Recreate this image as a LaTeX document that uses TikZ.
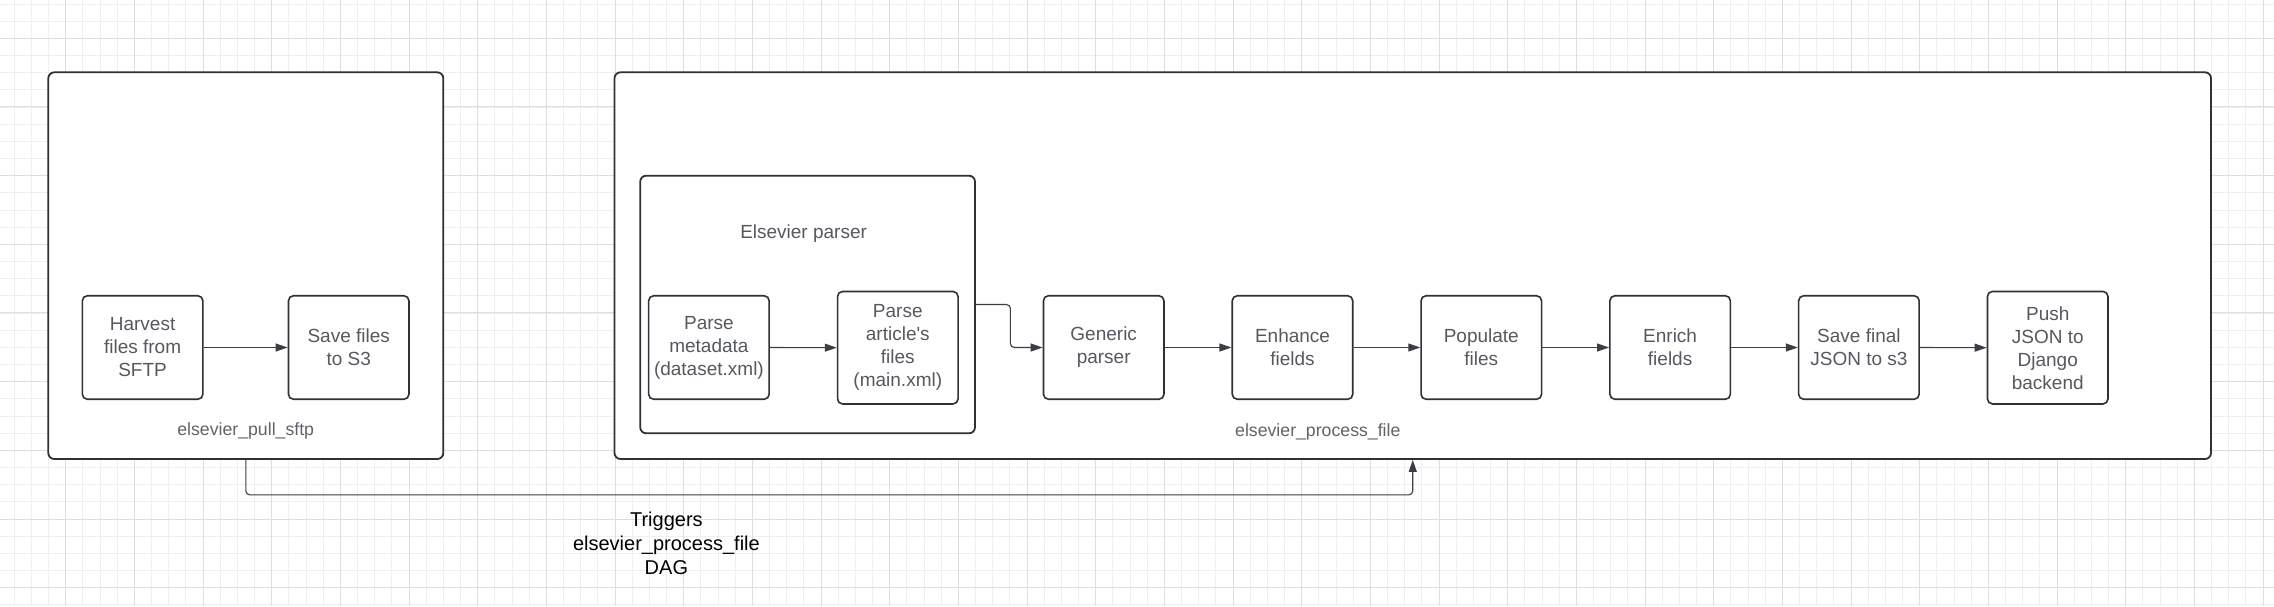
\documentclass[tikz,border=0pt]{standalone}
\usepackage{fontspec}
\setmainfont{Liberation Sans}[Ligatures=TeXOff]
\usetikzlibrary{arrows.meta}
\definecolor{gridminor}{HTML}{EFEFEF}
\definecolor{gridmajor}{HTML}{DEDEDE}
\definecolor{edge}{HTML}{2E3136}
\definecolor{txt}{HTML}{55595F}
\definecolor{lbl}{HTML}{606369}
\definecolor{conn}{HTML}{3A3E45}
\begin{document}
\begin{tikzpicture}[x=1pt,y=-1pt,
  stepbox/.style={draw=edge, line width=1.6pt, rounded corners=5pt, fill=white, text=txt, align=center, inner sep=0pt, minimum width=120.5pt, minimum height=103.5pt, font=\fontsize{19pt}{23pt}\selectfont},
  tallbox/.style={stepbox, minimum height=112.5pt},
  groupbox/.style={draw=edge, line width=1.8pt, rounded corners=6pt, fill=white, inner sep=0pt},
  grplabel/.style={text=lbl, font=\fontsize{17.7pt}{21pt}\selectfont, inner sep=0pt},
  flow/.style={draw=conn, line width=1.1pt, -{Triangle[length=12pt,width=8pt]}}
]
\useasboundingbox (0,0) rectangle (2274,606);
\begin{scope}
  \clip (0,0) rectangle (2274,606);
  \fill[white] (0,0) rectangle (2274,606);
  \foreach \i in {0,...,132} {
    \draw[gridminor, line width=1pt] ({14.2+\i*17.167},0) -- ++(0,606);
  }
  \foreach \j in {0,...,35} {
    \draw[gridminor, line width=1pt] (0,{4.0+\j*17.167}) -- ++(2274,0);
  }
  \foreach \i in {0,...,32} {
    \draw[gridmajor, line width=1pt] ({65.7+\i*68.67},0) -- ++(0,606);
  }
  \foreach \j in {0,...,8} {
    \draw[gridmajor, line width=1pt] (0,{38.3+\j*68.67}) -- ++(2274,0);
  }
\end{scope}

% group boxes
\node[groupbox, minimum width=395pt, minimum height=386.7pt] (box1) at (245.8,265.65) {};
\node[groupbox, minimum width=1596.5pt, minimum height=386.7pt] (box2) at (1412.75,265.65) {};
\node[groupbox, minimum width=334.8pt, minimum height=257.6pt] (parser) at (807.6,304.5) {};

% group labels
\node[grplabel] (lbl1) at (245.7,431) {elsevier\_pull\_sftp};
\node[grplabel] (lbl2) at (1317.8,431.7) {elsevier\_process\_file};
\node[text=txt, font=\fontsize{19pt}{23pt}\selectfont, inner sep=0pt] (lbl3) at (803.6,234) {Elsevier parser};

% steps
\node[stepbox] (harvest) at (142.6,347.5) {Harvest\\files from\\SFTP};
\node[stepbox] (save) at (348.7,347.5) {Save files\\to S3};
\node[stepbox] (meta) at (708.9,347.5) {Parse\\metadata\\(dataset.xml)};
\node[tallbox] (article) at (897.8,347.7) {Parse\\article's\\files\\(main.xml)};
\node[stepbox] (gen) at (1103.7,347.5) {Generic\\parser};
\node[stepbox] (enh) at (1292.5,347.5) {Enhance\\fields};
\node[stepbox] (pop) at (1481.3,347.5) {Populate\\files};
\node[stepbox] (enr) at (1670.1,347.5) {Enrich\\fields};
\node[stepbox] (fin) at (1858.9,347.5) {Save final\\JSON to s3};
\node[tallbox] (push) at (2047.7,347.7) {Push\\JSON to\\Django\\backend};

% connectors
\draw[flow] (harvest.east) -- (save.west);
\draw[flow] (meta.east) -- (article.west);
\draw[flow, rounded corners=4pt] (parser.east) -- ++(34.5,0) |- (gen.west);
\draw[flow] (gen.east) -- (enh.west);
\draw[flow] (enh.east) -- (pop.west);
\draw[flow] (pop.east) -- (enr.west);
\draw[flow] (enr.east) -- (fin.west);
\draw[flow] (fin.east) -- (push.west);
\draw[flow, rounded corners=4pt] (box1.south) -- ++(0,35) -| (box2.south);

\node[align=center, text=black, font=\fontsize{20pt}{24pt}\selectfont, inner sep=0pt] (trig) at (666.4,543) {Triggers\\elsevier\_process\_file\\DAG};
\end{tikzpicture}
\end{document}
